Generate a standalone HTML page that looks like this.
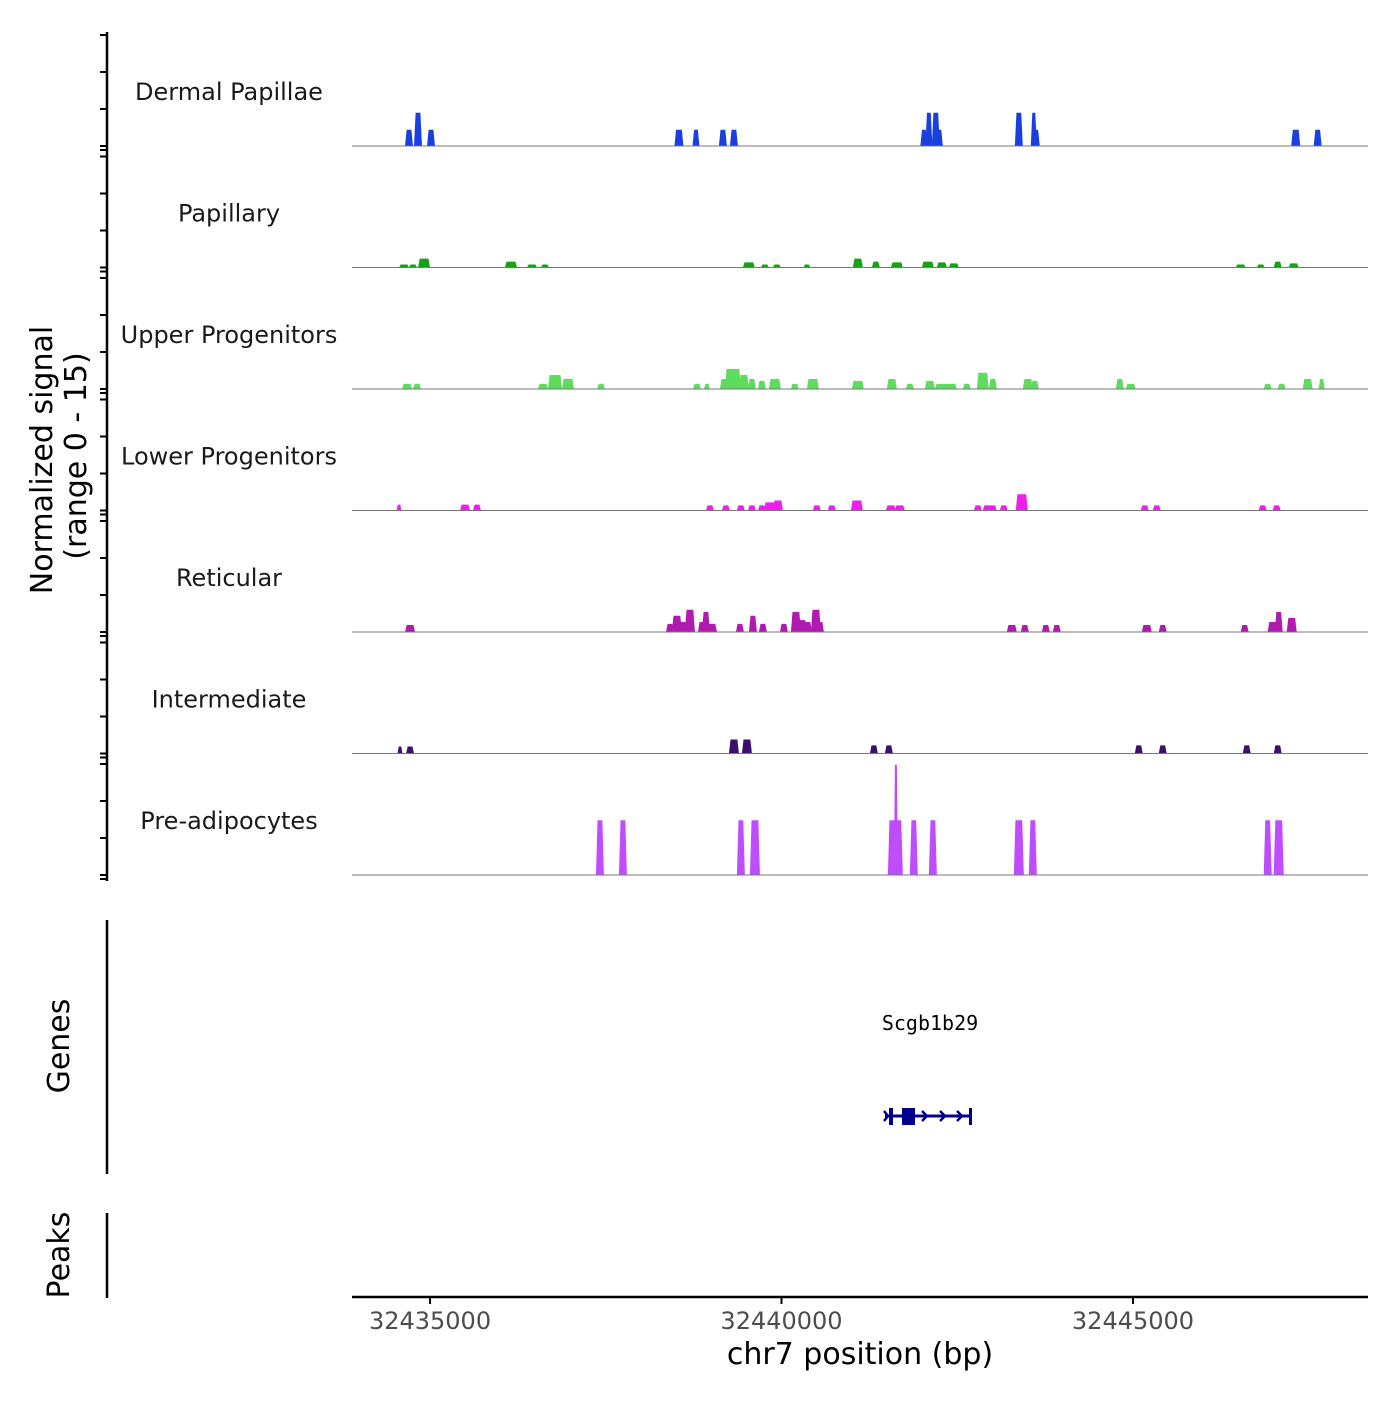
<!DOCTYPE html>
<html><head><meta charset="utf-8"><style>
body{margin:0;background:#fff}
svg text{font-family:"DejaVu Sans","Liberation Sans",sans-serif}
</style></head><body>
<svg id="c" width="1400" height="1400" xmlns="http://www.w3.org/2000/svg"></svg>
<script>
const trackNames=["Dermal Papillae","Papillary","Upper Progenitors","Lower Progenitors","Reticular","Intermediate","Pre-adipocytes"];
const trackColors=["#1a3fe0","#13a313","#5ddc5d","#f01cf0","#b01ab0","#3b0f6b","#bf4cff"];
// peak centers (bp), widths (bp), heights (normalized signal)
const dpPos=[32434701,32434829,32435014,32438541,32438783,32439166,32439323,32442025,32442096,32442195,32442252,32443376,32443589,32443617,32447315,32447627];
const dpW=[85,85,85,100,71,85,85,71,71,85,57,85,57,85,100,85];
const dpH=[2.2,4.5,2.2,2.2,2.2,2.2,2.2,2.2,4.5,4.5,2.2,4.5,4.5,2.2,2.2,2.2];
const papPos=[32434630,32434758,32434915,32436152,32436450,32436635,32439536,32439764,32439934,32440361,32441086,32441342,32441641,32442082,32442281,32442451,32446532,32446817,32447059,32447286];
const papW=[114,85,142,142,114,85,142,85,85,71,114,85,142,142,114,114,114,85,85,114];
const papH=[0.4,0.4,1.2,0.8,0.4,0.4,0.7,0.4,0.4,0.4,1.2,0.8,0.7,0.8,0.7,0.55,0.4,0.4,0.8,0.55];
const upPos=[32434673,32434815,32436607,32436778,32436962,32437432,32438797,32438939,32439181,32439309,32439465,32439579,32439721,32439906,32440190,32440446,32441086,32441570,32441826,32442110,32442338,32442636,32442864,32443006,32443504,32443603,32444812,32444968,32446916,32447115,32447485,32447684];
const upW=[114,85,114,171,142,85,85,57,85,199,114,85,85,142,85,142,142,114,85,114,284,85,142,85,114,85,85,114,85,85,114,57];
const upH=[0.7,0.7,0.7,1.9,1.35,0.7,0.7,0.7,1.35,2.7,1.9,1.35,1.1,1.35,0.7,1.35,1.1,1.35,0.7,1.1,0.7,0.7,2.2,1.35,1.35,1.1,1.35,0.7,0.7,0.7,1.35,1.35];
const lpPos=[32434559,32435498,32435668,32438982,32439209,32439422,32439579,32439721,32439835,32439949,32440503,32440716,32441072,32441555,32441683,32442793,32442963,32443162,32443418,32445167,32445338,32446845,32447044];
const lpW=[43,114,85,85,85,85,85,85,142,114,85,85,142,114,114,85,171,85,142,85,85,85,85];
const lpH=[0.8,0.8,0.8,0.7,0.7,0.7,0.7,0.7,1.1,1.35,0.7,0.7,1.35,0.7,0.7,0.7,0.7,0.7,2.2,0.7,0.7,0.7,0.7];
const retPos=[32434716,32438413,32438512,32438598,32438697,32438868,32438925,32439010,32439408,32439593,32439735,32440034,32440205,32440290,32440375,32440489,32440560,32443276,32443461,32443760,32443916,32445196,32445423,32446589,32446987,32447073,32447258];
const retW=[114,85,114,85,114,85,85,114,85,85,85,85,114,114,85,114,57,114,85,85,85,114,85,85,114,85,114];
const retH=[0.95,1.1,2.2,1.35,3.0,1.35,2.7,1.1,1.1,2.2,1.1,1.1,2.7,1.6,1.35,3.0,1.35,0.95,0.95,0.95,0.95,0.95,0.95,0.95,1.35,2.7,1.9];
const intPos=[32434573,32434716,32439323,32439508,32441314,32441527,32445082,32445423,32446618,32447059];
const intW=[43,85,114,114,85,85,85,85,85,85];
const intH=[0.95,0.95,1.9,1.9,1.1,1.1,1.1,1.1,1.1,1.1];
const prePos=[32437417,32437744,32439422,32439622,32441584,32441627,32441669,32441882,32442153,32443376,32443575,32446916,32447073];
const preW=[85,85,85,114,114,28,85,85,85,114,85,85,114];
const preH=[7.4,7.4,7.4,7.4,7.4,14.9,7.4,7.4,7.4,7.4,7.4,7.4,7.4];
const xTicks=[32435000,32440000,32445000];
const tracks=[[dpPos,dpW,dpH],[papPos,papW,papH],[upPos,upW,upH],[lpPos,lpW,lpH],[retPos,retW,retH],[intPos,intW,intH],[prePos,preW,preH]];

const svg=document.getElementById('c');
const NS='http://www.w3.org/2000/svg';
const X0=352,X1=1368,BP0=32433890,BP1=32448343;
const sx=bp=>X0+(bp-BP0)/(BP1-BP0)*(X1-X0);
const base=i=>146+i*121.5;
const sy=(i,v)=>base(i)-v*7.4;
function mk(tag,attrs,txt){const e=document.createElementNS(NS,tag);for(const k in attrs)e.setAttribute(k,attrs[k]);if(txt!=null)e.textContent=txt;svg.appendChild(e);return e;}

// left axis
let ax=mk('line',{x1:107,y1:32,x2:107,y2:881,stroke:'#000','stroke-width':2.5});


for(let i=0;i<7;i++){
  const ts=[0,5,10,15].map(v=>sy(i,v)).concat([base(i)+4]);
  ts.forEach(y=>{const t=mk('line',{x1:100,y1:y,x2:107,y2:y,stroke:'#000','stroke-width':2});
    
    });
}
let yt=mk('text',{x:0,y:0,'font-size':30,'text-anchor':'middle',transform:'translate(52,460) rotate(-90)'},'Normalized signal');


let yt2=mk('text',{x:0,y:0,'font-size':30,'text-anchor':'middle',transform:'translate(86,456) rotate(-90)'},'(range 0 - 15)');



tracks.forEach((tr,i)=>{
  const [pos,w,h]=tr;
  const lb=mk('text',{x:229,y:base(i)-46,'font-size':24,'text-anchor':'middle',fill:'#1a1a1a'},trackNames[i]);
  
  
  pos.forEach((p,j)=>{
    const a=sx(p-w[j]/2)-1,b=sx(p+w[j]/2)+1,y=sy(i,h[j]),y0=base(i);
    const s=Math.min(1.6,(b-a)/4);
    const pg=mk('polygon',{points:`${a},${y0} ${a+s},${y} ${b-s},${y} ${b},${y0}`,fill:trackColors[i]});
    
    
  });
  const bl=mk('line',{x1:X0,y1:base(i),x2:X1,y2:base(i),stroke:'#777','stroke-width':1});
  
  
});

// genes panel
let gl=mk('line',{x1:107,y1:920,x2:107,y2:1174,stroke:'#000','stroke-width':2.5});


let gt=mk('text',{x:0,y:0,'font-size':30,'text-anchor':'middle',transform:'translate(69,1046) rotate(-90)'},'Genes');


let gn=mk('text',{x:930,y:1030,'font-size':20,'text-anchor':'middle',style:'font-family:"DejaVu Sans Mono","Liberation Mono",monospace'},'Scgb1b29');


const g=document.createElementNS(NS,'g');


g.innerHTML='<line x1="885" y1="1116" x2="972" y2="1116" stroke="#00008b" stroke-width="3"/><rect x="889" y="1108" width="4" height="17" fill="#00008b"/><rect x="902" y="1108" width="13" height="17" fill="#00008b"/><rect x="969" y="1108" width="3" height="17" fill="#00008b"/><polyline points="884,1111 888,1116 884,1121" fill="none" stroke="#00008b" stroke-width="2.5"/><polyline points="922,1111 927,1116 922,1121" fill="none" stroke="#00008b" stroke-width="2.5"/><polyline points="940,1111 945,1116 940,1121" fill="none" stroke="#00008b" stroke-width="2.5"/><polyline points="957,1111 962,1116 957,1121" fill="none" stroke="#00008b" stroke-width="2.5"/>';
svg.appendChild(g);

// peaks panel
let pl=mk('line',{x1:107,y1:1213,x2:107,y2:1298,stroke:'#000','stroke-width':2.5});


let pt=mk('text',{x:0,y:0,'font-size':30,'text-anchor':'middle',transform:'translate(69,1255) rotate(-90)'},'Peaks');



// x axis
let xa=mk('line',{x1:X0,y1:1297,x2:X1,y2:1297,stroke:'#000','stroke-width':2.5});


xTicks.forEach(v=>{
  const x=sx(v);
  const t=mk('line',{x1:x,y1:1297,x2:x,y2:1304,stroke:'#000','stroke-width':2});
  
  
  const l=mk('text',{x:x,y:1329,'font-size':24,'text-anchor':'middle',fill:'#4d4d4d'},String(v));
  
  
});
let xt=mk('text',{x:860,y:1364,'font-size':30,'text-anchor':'middle'},'chr7 position (bp)');


</script>
</body></html>
